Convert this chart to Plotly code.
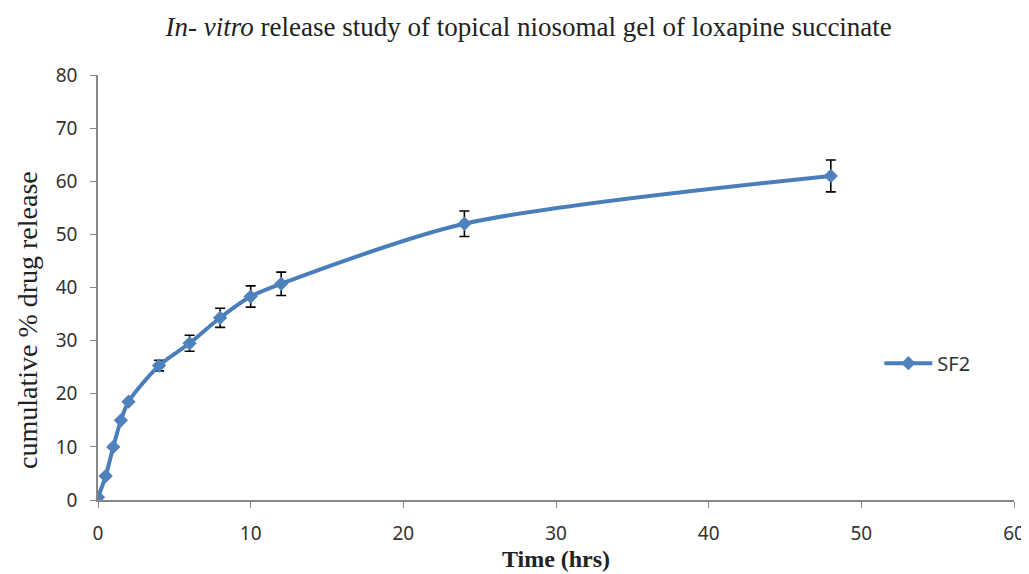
import plotly.graph_objects as go

time_hrs = [0, 0.5, 1, 1.5, 2, 4, 6, 8, 10, 12, 24, 48]
release_sf2 = [0.5, 4.5, 10, 15, 18.5, 25.3, 29.5, 34.3, 38.3, 40.7, 52.0, 61.0]
error_sf2 = [0, 0, 0, 0, 0, 1.0, 1.5, 1.8, 2.0, 2.2, 2.4, 3.0]

x_ticks = [0, 10, 20, 30, 40, 50, 60]
y_ticks = [0, 10, 20, 30, 40, 50, 60, 70, 80]

fig = go.Figure()
fig.add_trace(go.Scatter(
    x=time_hrs, y=release_sf2, name="SF2", mode="lines+markers",
    line=dict(color="#4A7EBB", width=4, shape="spline", smoothing=0.8),
    marker=dict(symbol="diamond", size=11, color="#4F81BD"),
    error_y=dict(type="data", array=error_sf2, visible=True,
                 color="black", thickness=1.6, width=5),
))

# page body has an 8px margin, so figure is sized to fit the 1029x574 window
fig.update_layout(
    width=1021, height=566,
    paper_bgcolor="white", plot_bgcolor="white",
    margin=dict(l=90, r=15, t=67, b=74),
    title=dict(
        text="<i>In- vitro</i> release study of topical niosomal gel of loxapine succinate",
        x=0.51, xanchor="center", y=0.984, yanchor="top",
        font=dict(family="Liberation Serif", size=27, color="#222"),
    ),
    showlegend=True,
    legend=dict(x=0.853, y=0.322, xanchor="left", yanchor="middle", itemwidth=48,
                font=dict(family="Noto Sans", size=20, color="#333"),
                bgcolor="rgba(0,0,0,0)"),
    xaxis=dict(
        range=[0, 60], tickvals=x_ticks, showgrid=False, zeroline=False,
        showline=True, linecolor="#888", linewidth=1.5, automargin=False,
        ticks="outside", ticklen=6, tickcolor="#888", ticklabelstandoff=9,
        tickfont=dict(family="Noto Sans", size=19, color="#333"),
        title=dict(text="<b>Time (hrs)</b>", standoff=2,
                   font=dict(family="Liberation Serif", size=24, color="#222")),
    ),
    yaxis=dict(
        range=[0, 80], tickvals=y_ticks, showgrid=False, zeroline=False,
        showline=True, linecolor="#888", linewidth=1.5, automargin=False,
        ticks="outside", ticklen=6, tickcolor="#888", ticklabelstandoff=9,
        tickfont=dict(family="Noto Sans", size=19, color="#333"),
    ),
    annotations=[dict(
        text="cumulative % drug release", textangle=-90,
        xref="paper", yref="paper", x=-0.0775, y=0.4235,
        xanchor="center", yanchor="middle", showarrow=False,
        font=dict(family="Liberation Serif", size=28, color="#222"),
    )],
)

fig.write_html("out.html")
